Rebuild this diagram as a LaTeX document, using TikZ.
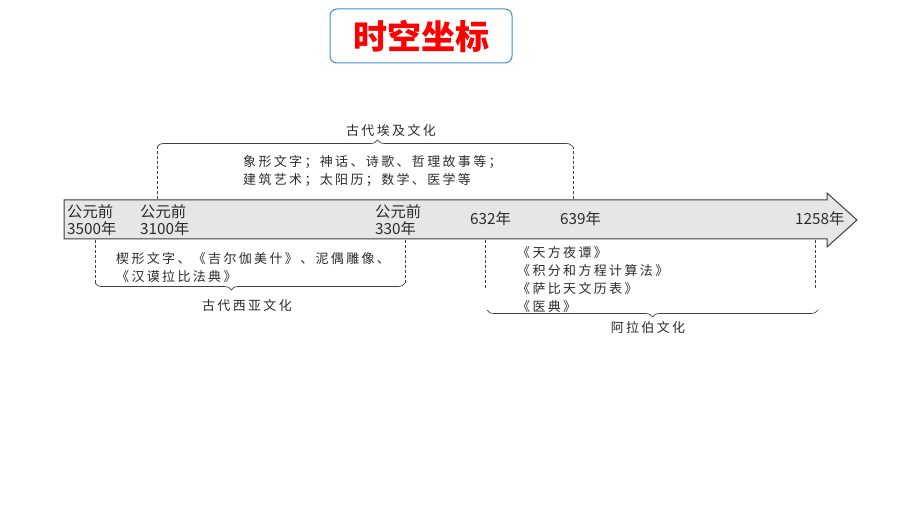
\documentclass[tikz,border=0pt]{standalone}
\usepackage{fontspec}
\setmainfont{Noto Sans CJK SC}
\newfontfamily\spacedfont[LetterSpace=18]{Noto Sans CJK SC}
\usetikzlibrary{decorations.pathreplacing,positioning}
\definecolor{titleblue}{HTML}{3C8DD4}
\definecolor{bargray}{HTML}{E6E6E6}
\definecolor{inkgray}{HTML}{2B2B2B}

\begin{document}
\begin{tikzpicture}[
			x=1pt,y=-1pt,
			year/.style={font=\fontsize{15.3}{17}\selectfont,align=left,inner sep=0pt,anchor=west,text=inkgray},
			era/.style={font=\spacedfont\fontsize{13}{18}\selectfont,align=left,inner sep=0pt,anchor=north west,text=inkgray},
			culture/.style={font=\spacedfont\fontsize{13}{15}\selectfont,inner sep=0pt,text=inkgray},
			guide/.style={dash pattern=on 3pt off 2pt,black!75,line width=0.7pt},
			span/.style={decorate,decoration={brace,amplitude=7pt,aspect=#1},black!75,line width=0.7pt},
			]
			\useasboundingbox (0,0) rectangle (920,518);
			% title
			\node [draw=titleblue,line width=1pt,rounded corners=7pt,minimum width=182pt,minimum height=54pt,
				text=red,font=\bfseries\fontsize{34}{34}\selectfont] (title) at (421,36) {时空坐标};
			% time bar
			\draw [fill=bargray,draw=black!75,line width=1pt] (64,200) -- (827,200) -- (827,193) -- (857,220)
				-- (827,247) -- (827,239) -- (64,239) -- cycle;
			\node [year] (y3500) at (67,220) {公元前\\3500年};
			\node [year] (y3100) at (140,220) {公元前\\3100年};
			\node [year] (y330) at (375,220) {公元前\\330年};
			\node [year] (y632) at (470,219) {632年};
			\node [year] (y639) at (560,219) {639年};
			\node [year] (y1258) at (795,219) {1258年};
			% egypt
			\coordinate (egyptA) at (157,199);
			\coordinate (egyptB) at (573,199);
			\coordinate (egyptA') at (157,147);
			\coordinate (egyptB') at (573,147);
			\draw [guide] (egyptA) -- (egyptA');
			\draw [guide] (egyptB) -- (egyptB');
			\draw [span=0.53] (egyptA') -- (egyptB');
			\node [culture] (egypt) at (391,131) {古代埃及文化};
			\node [era] (egyptText) at (243,155) {象形文字；神话、诗歌、哲理故事等；\\建筑艺术；太阳历；数学、医学等};
			% west asia
			\coordinate (asiaA) at (95,240);
			\coordinate (asiaB) at (405,240);
			\coordinate (asiaA') at (95,283);
			\coordinate (asiaB') at (405,283);
			\draw [guide] (asiaA) -- (asiaA');
			\draw [guide] (asiaB) -- (asiaB');
			\draw [span=0.56] (asiaB') -- (asiaA');
			\node [culture] (asia) at (247,306) {古代西亚文化};
			\node [era] (asiaText) at (116,252) {楔形文字、《吉尔伽美什》、泥偶雕像、\\《汉谟拉比法典》};
			% arab
			\coordinate (arabA) at (485,240);
			\coordinate (arabB) at (815,240);
			\coordinate (arabA') at (485,289);
			\coordinate (arabB') at (815,289);
			\draw [guide] (arabA) -- (arabA');
			\draw [guide] (arabB) -- (arabB');
			\draw [span=0.5] (818,310) -- (487,310);
			\node [culture] (arab) at (648,328) {阿拉伯文化};
			\node [era] (arabText) at (517,246) {《天方夜谭》\\《积分和方程计算法》\\《萨比天文历表》\\《医典》};
		\end{tikzpicture}
\end{document}
